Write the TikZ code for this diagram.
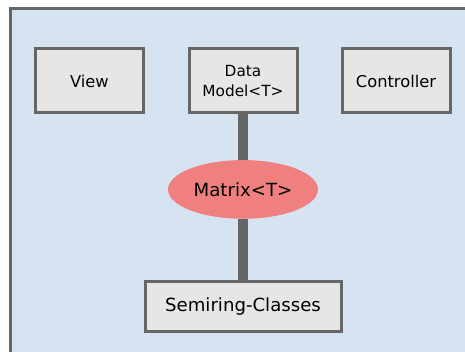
\documentclass[tikz,border=0pt]{standalone}
\usepackage{fontspec}
\setmainfont{DejaVu Sans}
\usetikzlibrary{positioning,shapes.geometric}

\definecolor{panelblue}{HTML}{D6E4F2}
\definecolor{edgegray}{HTML}{666666}
\definecolor{boxgray}{HTML}{E6E6E6}
\definecolor{matrixred}{HTML}{F08080}

\begin{document}
\begin{tikzpicture}[
    x=0.75pt, y=-0.75pt,
    node distance=34.5pt and 32pt,
    comp/.style={rectangle, draw=edgegray, line width=2.25pt, fill=boxgray, align=center, minimum width=81pt, minimum height=48pt, font=\fontsize{12.2}{15}\selectfont},
    core/.style={ellipse, fill=matrixred, inner sep=0pt, minimum width=112.5pt, minimum height=44pt, font=\fontsize{13.6}{16}\selectfont},
    link/.style={draw=edgegray, line width=7.5pt}
]
\clip (0,0) rectangle (465,352);
% panel behind everything
\draw[draw=edgegray, line width=2.25pt, fill=panelblue] (10.5,8.5) rectangle (480,370);

\node[comp, font=\fontsize{11.5}{15}\selectfont] (model) at (243,81) {Data\\ Model<T>};
\node[comp, left=of model] (view) {View};
\node[comp, right=31.5pt of model] (ctrl) {Controller};
\node[core, below=34pt of model] (matrix) {Matrix<T>};
\node[comp, below=45.75pt of matrix, minimum width=147pt, minimum height=37.5pt, font=\fontsize{13.6}{16}\selectfont] (semiring) {Semiring-Classes};

\draw[link] (model) -- (matrix);
\draw[link] (matrix) -- (semiring);
\end{tikzpicture}
\end{document}
